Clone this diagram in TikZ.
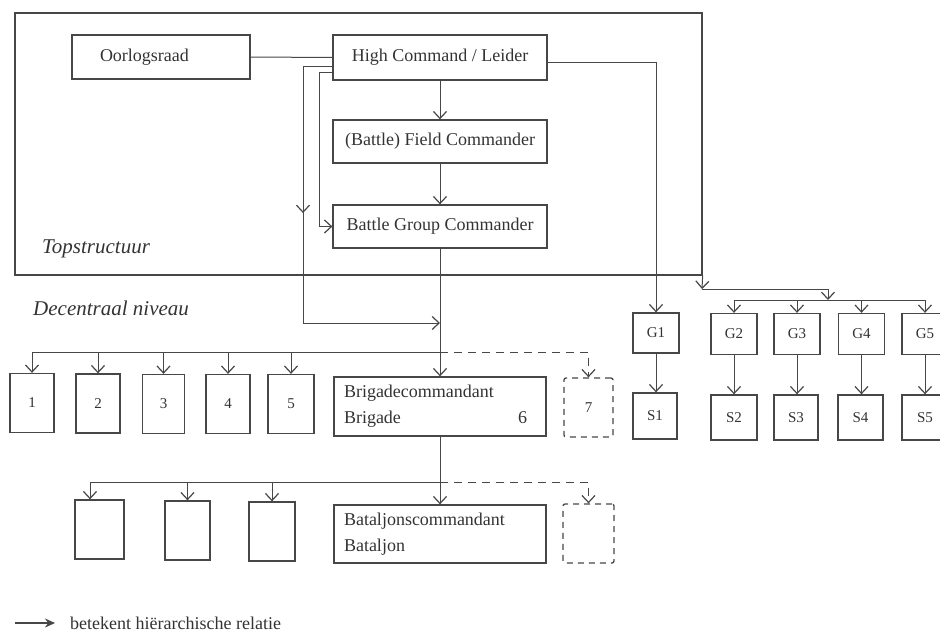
\documentclass[tikz,border=0pt]{standalone}
\usepackage{fontspec}
\setmainfont{Liberation Serif}
\usetikzlibrary{arrows.meta,calc,decorations.markings}
\colorlet{ink}{black!72}
\colorlet{txt}{black!80}
\tikzset{
  tip/.tip={Straight Barb[length=7pt,width=13pt,line width=1.2pt]},
  box/.style={draw=ink, line width=1.3pt, rectangle, inner sep=0pt, text=txt,
    font=\fontsize{18}{26}\selectfont},
  smallbox/.style={box, font=\fontsize{15}{18}\selectfont},
  dbox/.style={smallbox, dash pattern=on 6pt off 5pt, rounded corners=2pt},
  conn/.style={draw=ink, line width=1pt},
  arr/.style={conn, -tip},
  dsh/.style={dash pattern=on 8pt off 6pt},
  midarrow/.style={decoration={markings, mark=at position #1 with {\arrow{tip}}}, postaction={decorate}},
  lab/.style={text=txt, font=\fontsize{21}{24}\selectfont\itshape, anchor=west, inner sep=0pt}
}
\begin{document}
\begin{tikzpicture}[x=1pt,y=-1pt]
\useasboundingbox (0,0) rectangle (940,637);
% frame
\node[draw=ink, line width=1.3pt, minimum width=687, minimum height=262, inner sep=0pt] (top) at (358.5,144) {};
\node[lab] (ts) at (42,249) {Topstructuur};
\node[lab] (dn) at (33,308) {Decentraal niveau};
% top boxes
\node[box, minimum height=44, text width=122pt, align=left, inner xsep=28pt] (oor) at (161,57) {Oorlogsraad};
\node[box, minimum width=214, minimum height=45] (hc) at (440,57.5) {High Command / Leider};
\node[box, minimum width=214, minimum height=43] (bfc) at (440,141.5) {(Battle) Field Commander};
\node[box, minimum width=214, minimum height=43] (bgc) at (440,226.5) {Battle Group Commander};
% G and S boxes
\node[smallbox, minimum width=46, minimum height=40] (g1) at (656,333) {G1};
\node[smallbox, minimum width=46, minimum height=41] (g2) at (734,334) {G2};
\node[smallbox, minimum width=46, minimum height=41] (g3) at (797,334) {G3};
\node[smallbox, minimum width=46, minimum height=41] (g4) at (861.5,334) {G4};
\node[smallbox, minimum width=46, minimum height=41] (g5) at (925,334) {G5};
\node[smallbox, minimum width=44, minimum height=46] (s1) at (655,416) {S1};
\node[smallbox, minimum width=46, minimum height=45] (s2) at (734,417.5) {S2};
\node[smallbox, minimum width=44, minimum height=45] (s3) at (796,417.5) {S3};
\node[smallbox, minimum width=45, minimum height=45] (s4) at (860.5,417.5) {S4};
\node[smallbox, minimum width=46, minimum height=45] (s5) at (925,417.5) {S5};
% brigade level
\node[smallbox, minimum width=44, minimum height=59] (b1) at (32,403) {1};
\node[smallbox, minimum width=44, minimum height=59] (b2) at (98,403.5) {2};
\node[smallbox, minimum width=42, minimum height=59] (b3) at (163.5,404) {3};
\node[smallbox, minimum width=44, minimum height=59] (b4) at (228,404) {4};
\node[smallbox, minimum width=46, minimum height=59] (b5) at (291,404) {5};
\node[box, text width=192pt, inner xsep=10pt, minimum height=59, align=left] (brig) at (440,406.5) {Brigadecommandant\\Brigade\hfill 6\hspace*{9pt}};
\node[dbox, minimum width=49, minimum height=59] (b7) at (588.5,407.5) {7};
% battalion level
\node[smallbox, minimum width=49, minimum height=59] (c1) at (99.5,529.5) {};
\node[smallbox, minimum width=45, minimum height=59] (c2) at (187.5,530.5) {};
\node[smallbox, minimum width=46, minimum height=59] (c3) at (272,531.5) {};
\node[box, text width=192pt, inner xsep=10pt, minimum height=58, align=left] (bat) at (440,534) {Bataljonscommandant\\Bataljon};
\node[dbox, minimum width=51, minimum height=59] (c7) at (588.5,533.5) {};
% coordinates
\coordinate (k1) at (303,323);
\coordinate (t1) at (702,289);
\coordinate (t2) at (828,300);
\coordinate (j1) at (440,352);
\coordinate (j2) at (440,482);
% top connectors
\draw[conn] (oor.east) -- (hc.west);
\draw[arr] (hc.south) -- (bfc.north);
\draw[arr] (bfc.south) -- (bgc.north);
\draw[arr, midarrow=0.416] ([yshift=-9pt]hc.west) -| (k1) -- (bgc.south |- k1);
\draw[arr] ([yshift=-15pt]hc.west) -| ([xshift=-13pt]bgc.west) -- (bgc.west);
\draw[arr] ([yshift=-4.5pt]hc.east) -| (g1.north);
\draw[arr] (top.south east) -- (t1);
\draw[arr] (t1) -| (t2);
\draw[conn] (g2.north |- t2) -- (g5.north |- t2);
\foreach \g in {g2,g3,g4,g5} {\draw[arr] (\g.north |- t2) -- (\g.north);}
\foreach \g/\s in {g1/s1,g2/s2,g3/s3,g4/s4,g5/s5} {\draw[arr] (\g.south) -- (\g.south |- \s.north);}
% brigade connectors
\draw[arr] (bgc.south) -- (brig.north);
\draw[conn] (j1) -- (b1.north |- j1);
\foreach \b in {b1,b2,b3,b4,b5} {\draw[arr] (\b.north |- j1) -- (\b.north);}
\draw[arr, dsh] (j1) -| (b7.north);
% battalion connectors
\draw[arr] (brig.south) -- (bat.north);
\draw[conn] (j2) -- ([xshift=-9.5pt]c1.north |- j2);
\draw[arr] ([xshift=-9.5pt]c1.north |- j2) -- ([xshift=-9.5pt]c1.north);
\foreach \c in {c2,c3} {\draw[arr] (\c.north |- j2) -- (\c.north);}
\draw[arr, dsh] (j2) -| (c7.north);
% legend
\coordinate (l1) at (15,623);
\node[anchor=west, inner sep=0pt, text=txt, font=\fontsize{18}{20}\selectfont] (leg) at (70,623) {betekent hiërarchische relatie};
\draw[draw=ink, line width=1.6pt, -{Stealth[length=10pt,width=9pt]}] (l1) -- ([xshift=-15pt]leg.west);
\end{tikzpicture}
\end{document}
